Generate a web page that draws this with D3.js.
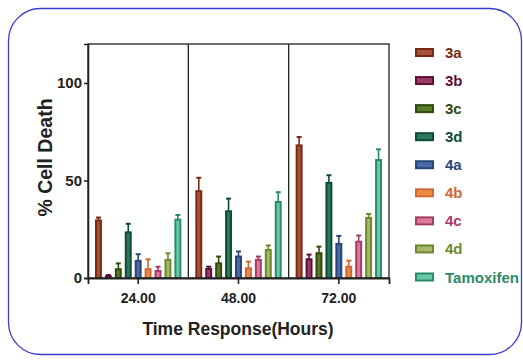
<!DOCTYPE html>
<html><head><meta charset="utf-8">
<script src="https://cdn.jsdelivr.net/npm/d3@7"></script>
<style>body{margin:0;background:#fff}svg{display:block}text{font-family:"Liberation Sans",Arial,sans-serif;font-weight:bold}</style>
</head><body><svg id="c" width="523" height="360"></svg>
<script>
const groups = ["24.00", "48.00", "72.00"];
const seriesNames = ["3a", "3b", "3c", "3d", "4a", "4b", "4c", "4d", "Tamoxifen"];
// mean values per series, per time point
const means = {
  "3a": [29.5, 44.5, 68],
  "3b": [0.8, 4.6, 9.6],
  "3c": [4.5, 7.5, 12.7],
  "3d": [23.4, 34.2, 48.8],
  "4a": [8.8, 11, 17.5],
  "4b": [4.5, 5, 5.8],
  "4c": [3.6, 9.3, 18.6],
  "4d": [9.3, 14.4, 30.8],
  "Tamoxifen": [29.9, 39, 60.5]
};
// upper error (mean + sd)
const upper = {
  "3a": [31, 51.4, 72.3],
  "3b": [1.5, 5.8, 12],
  "3c": [7.5, 11, 16.1],
  "3d": [27.8, 40.7, 52.7],
  "4a": [12.2, 13.6, 21.6],
  "4b": [9.6, 8.4, 8.9],
  "4c": [5.8, 11, 21.8],
  "4d": [12.7, 16.7, 32.8],
  "Tamoxifen": [32.3, 44, 66]
};
const yTicks = [0, 50, 100];
const strokeColors = ["#7a2a10", "#5e0f38", "#2f4a0c", "#0e4a38", "#2a4677", "#d0683a", "#a83a68", "#6a8a2c", "#2a8a6a"];
const fillColors = ["#a8513a", "#9c3b62", "#5a7a2a", "#2a7a5a", "#4a6aaa", "#f08a40", "#e07a9a", "#a8b86a", "#6acaa8"];

const svg = d3.select("#c");
svg.append("rect").attr("x", 8.5).attr("y", 8.5).attr("width", 513).attr("height", 346)
  .attr("rx", 32).attr("fill", "none").attr("stroke", "#3b3bcf").attr("stroke-width", 1.3);

const L = 88, R = 389, T = 44, B = 278;
const x0 = d3.scaleBand().domain(groups).range([L, R]).padding(0);
const x1 = d3.scaleBand().domain(seriesNames).range([4, x0.bandwidth() - 4]).padding(0.3);
const y = d3.scaleLinear().domain([0, 120]).range([B, T]);
const sc = d3.scaleOrdinal().domain(seriesNames).range(strokeColors);
const fc = d3.scaleOrdinal().domain(seriesNames).range(fillColors);

// bars
const g = svg.append("g");
groups.forEach((grp, gi) => {
  seriesNames.forEach(s => {
    const bx = x0(grp) + x1(s);
    const w = x1.bandwidth();
    const cx = bx + w / 2;
    const ye = y(upper[s][gi]), ym = y(means[s][gi]);
    g.append("line").attr("x1", cx).attr("x2", cx).attr("y1", ym).attr("y2", ye)
      .attr("stroke", sc(s)).attr("stroke-width", 1.6);
    g.append("line").attr("x1", cx - 2.5).attr("x2", cx + 2.5).attr("y1", ye).attr("y2", ye)
      .attr("stroke", sc(s)).attr("stroke-width", 2);
    g.append("rect").attr("x", bx + 1).attr("y", ym).attr("width", w - 2).attr("height", Math.max(0, B - ym))
      .attr("fill", fc(s)).attr("stroke", sc(s)).attr("stroke-width", 2);
  });
});

// frame and dividers
const frameColor = "#222";
svg.append("rect").attr("x", L).attr("y", T).attr("width", R - L).attr("height", B - T)
  .attr("fill", "none").attr("stroke", frameColor).attr("stroke-width", 1.3);
groups.slice(1).forEach(grp => {
  svg.append("line").attr("x1", x0(grp)).attr("x2", x0(grp)).attr("y1", T).attr("y2", B)
    .attr("stroke", frameColor).attr("stroke-width", 1.3);
});

// axes
const yAxis = svg.append("g").attr("transform", `translate(${L},0)`)
  .call(d3.axisLeft(y).tickValues(yTicks).tickSize(4).tickPadding(2));
yAxis.select(".domain").attr("stroke", frameColor).attr("stroke-width", 1.6);
yAxis.selectAll(".tick line").attr("stroke", frameColor).attr("stroke-width", 1.6);
yAxis.selectAll("text").attr("font-size", 15).attr("fill", "#222")
  .style("font-family", '"Liberation Sans",Arial,sans-serif').style("font-weight", "bold");

const xAxis = svg.append("g").attr("transform", `translate(0,${B})`)
  .call(d3.axisBottom(x0).tickSize(6).tickPadding(9));
xAxis.select(".domain").attr("stroke", frameColor).attr("stroke-width", 1.8);
xAxis.selectAll(".tick line").attr("stroke", frameColor).attr("stroke-width", 1.6);
xAxis.selectAll("text").attr("font-size", 14).attr("fill", "#222")
  .style("font-family", '"Liberation Sans",Arial,sans-serif').style("font-weight", "bold");

svg.append("text").attr("transform", "translate(52,157.5) rotate(-90)").attr("text-anchor", "middle")
  .attr("font-size", 19.5).attr("fill", "#222").text("% Cell Death");
svg.append("text").attr("x", 238).attr("y", 335).attr("text-anchor", "middle")
  .attr("font-size", 17.5).attr("fill", "#222").text("Time Response(Hours)");

// legend
const ly = d3.scalePoint().domain(seriesNames).range([52.5, 277]);
const lg = svg.append("g");
seriesNames.forEach(s => {
  lg.append("rect").attr("x", 416).attr("y", ly(s) - 3.5).attr("width", 17).attr("height", 7)
    .attr("fill", fc(s)).attr("stroke", sc(s)).attr("stroke-width", 2);
  lg.append("text").attr("x", 445).attr("y", ly(s) + 5.5).attr("font-size", 15)
    .attr("fill", sc(s)).text(s);
});
</script></body></html>
